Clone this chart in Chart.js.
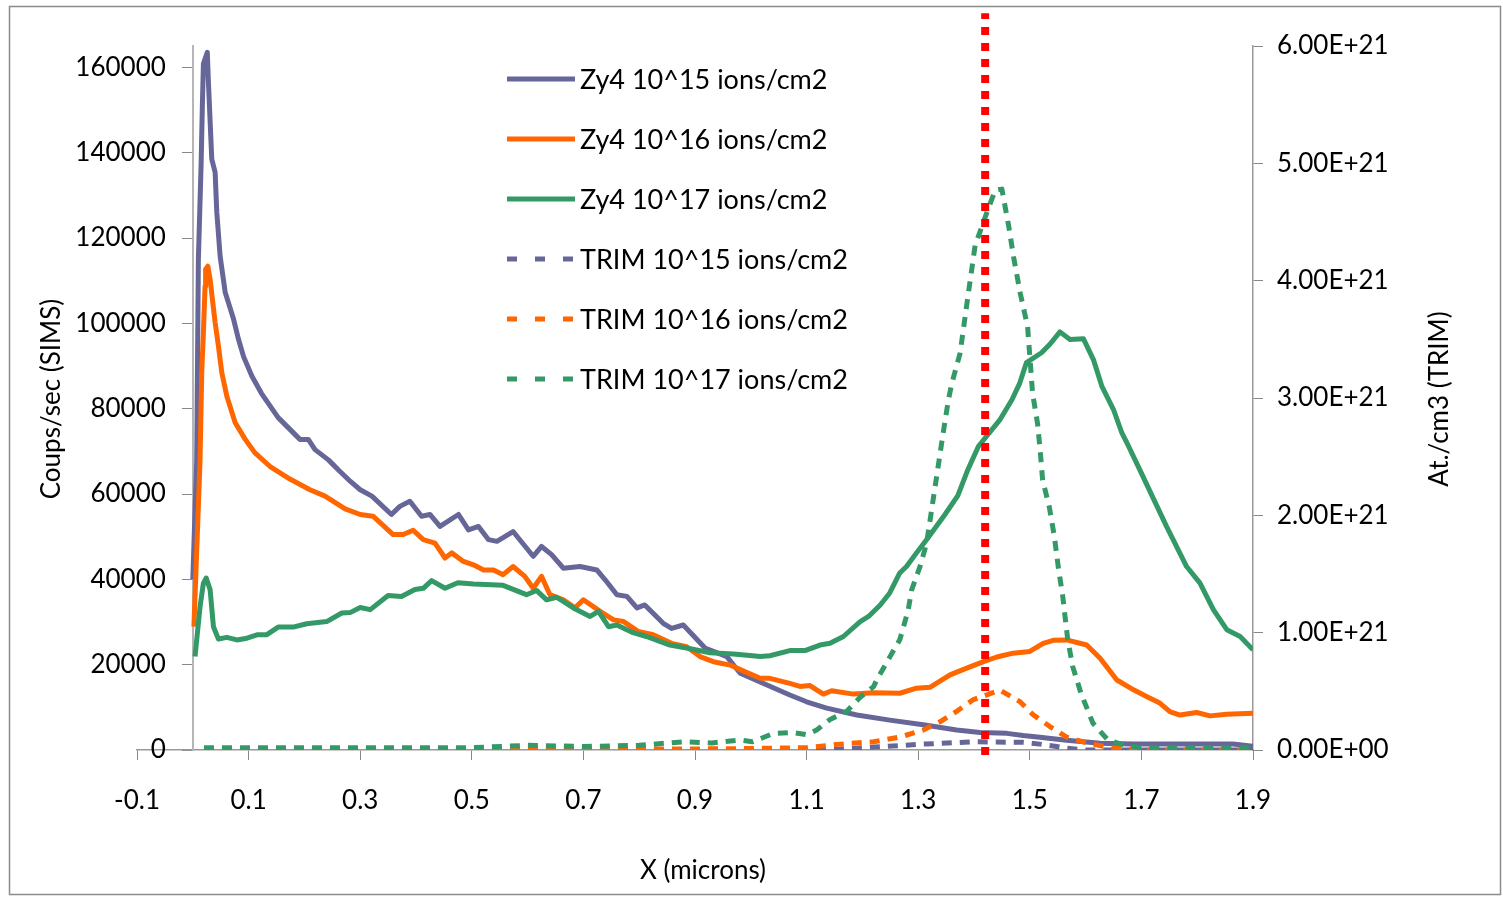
<!DOCTYPE html>
<html>
<head>
<meta charset="utf-8">
<script src="https://cdn.jsdelivr.net/npm/chart.js@4.4.0/dist/chart.umd.min.js"></script>
<style>
  html, body { margin: 0; padding: 0; background: #fff; }
  canvas { display: block; }
</style>
</head>
<body>
<canvas id="chart" width="1503" height="898"></canvas>
<script>
// ticks
const xTicks = [-0.1, 0.1, 0.3, 0.5, 0.7, 0.9, 1.1, 1.3, 1.5, 1.7, 1.9];
const xTickLabels = ['-0.1', '0.1', '0.3', '0.5', '0.7', '0.9', '1.1', '1.3', '1.5', '1.7', '1.9'];
const leftTicks = [0, 20000, 40000, 60000, 80000, 100000, 120000, 140000, 160000];
const leftTickLabels = ['0', '20000', '40000', '60000', '80000', '100000', '120000', '140000', '160000'];
const rightTicks = [0, 1e21, 2e21, 3e21, 4e21, 5e21, 6e21];
const rightTickLabels = ['0.00E+00', '1.00E+21', '2.00E+21', '3.00E+21', '4.00E+21', '5.00E+21', '6.00E+21'];

const seriesNames = ['Zy4 10^15 ions/cm2', 'Zy4 10^16 ions/cm2', 'Zy4 10^17 ions/cm2',
  'TRIM 10^15 ions/cm2', 'TRIM 10^16 ions/cm2', 'TRIM 10^17 ions/cm2'];

// SIMS, Zy4 10^15 (coups/sec)
const zy15X = [0, 0.007, 0.010, 0.015, 0.017, 0.019, 0.026, 0.028, 0.034, 0.040, 0.043, 0.049, 0.058, 0.073, 0.082, 0.091,
  0.106, 0.123, 0.153, 0.192, 0.207, 0.219, 0.243, 0.262, 0.282, 0.300, 0.321, 0.356, 0.371, 0.389, 0.410, 0.425, 0.443,
  0.476, 0.494, 0.512, 0.530, 0.545, 0.574, 0.610, 0.625, 0.643, 0.664, 0.694, 0.724, 0.739, 0.760, 0.778, 0.796, 0.810,
  0.843, 0.858, 0.879, 0.918, 0.957, 0.981, 1.028, 1.070, 1.100, 1.136, 1.190, 1.249, 1.309, 1.369, 1.411, 1.459, 1.488,
  1.518, 1.566, 1.626, 1.685, 1.864, 1.900];
const zy15Y = [40000, 68000, 115000, 137800, 150200, 160800, 163500, 156500, 138500, 135400, 126000, 115700, 107300, 101000, 96200, 92200,
  87600, 83600, 77900, 72800, 72800, 70400, 68000, 65500, 63000, 61000, 59500, 55200, 57100, 58300, 54800, 55200, 52400,
  55200, 51600, 52400, 49300, 48900, 51200, 45400, 47700, 45800, 42600, 43000, 42200, 39900, 36400, 36000, 33300, 34000,
  29700, 28500, 29300, 23900, 21900, 18000, 15300, 12900, 11300, 9800, 8200, 7000, 5900, 4700, 4100, 3900, 3400,
  3000, 2300, 1600, 1400, 1400, 900];

// SIMS, Zy4 10^16
const zy16X = [0.002, 0.013, 0.016, 0.019, 0.022, 0.023, 0.027, 0.031, 0.040, 0.046, 0.052, 0.061, 0.076, 0.094, 0.111,
  0.138, 0.174, 0.210, 0.237, 0.273, 0.300, 0.323, 0.359, 0.377, 0.395, 0.413, 0.434, 0.452, 0.464, 0.485, 0.503, 0.521,
  0.539, 0.556, 0.574, 0.595, 0.610, 0.625, 0.640, 0.664, 0.685, 0.700, 0.730, 0.754, 0.772, 0.798, 0.825, 0.858, 0.885,
  0.909, 0.933, 0.963, 0.985, 1.017, 1.034, 1.070, 1.088, 1.106, 1.130, 1.145, 1.184, 1.220, 1.267, 1.297, 1.321, 1.357,
  1.387, 1.417, 1.441, 1.470, 1.500, 1.524, 1.542, 1.566, 1.602, 1.626, 1.656, 1.686, 1.710, 1.733, 1.751, 1.769, 1.799,
  1.823, 1.853, 1.900];
const zy16Y = [28900, 68000, 88400, 97900, 108700, 112700, 113400, 110300, 100200, 94600, 88400, 82900, 76700, 72800, 69700,
  66500, 63500, 61000, 59500, 56500, 55200, 54800, 50500, 50500, 51500, 49300, 48500, 45000, 46200, 44200, 43400, 42200,
  42200, 41100, 43000, 40700, 37900, 40700, 36400, 35200, 33300, 35200, 32500, 30500, 30100, 27800, 27000, 25000, 24200,
  21900, 20700, 19900, 18600, 16800, 16800, 15600, 14900, 15100, 13100, 13900, 13100, 13400, 13300, 14500, 14700, 17600,
  19200, 20700, 21800, 22700, 23100, 25000, 25700, 25800, 24600, 21500, 16400, 14100, 12500, 11000, 9000, 8200, 8800,
  8000, 8400, 8600];

// SIMS, Zy4 10^17
const zy17X = [0.004, 0.013, 0.019, 0.024, 0.031, 0.037, 0.046, 0.061, 0.079, 0.097, 0.115, 0.132, 0.153, 0.180, 0.204,
  0.240, 0.267, 0.282, 0.300, 0.318, 0.350, 0.374, 0.398, 0.413, 0.428, 0.452, 0.475, 0.503, 0.556, 0.598, 0.616, 0.634,
  0.652, 0.682, 0.712, 0.727, 0.745, 0.760, 0.789, 0.813, 0.855, 0.885, 0.927, 0.969, 1.017, 1.034, 1.070, 1.097, 1.124,
  1.142, 1.166, 1.196, 1.211, 1.232, 1.249, 1.267, 1.279, 1.297, 1.315, 1.348, 1.371, 1.389, 1.408, 1.447, 1.468, 1.482,
  1.494, 1.521, 1.536, 1.554, 1.572, 1.596, 1.614, 1.629, 1.650, 1.665, 1.677, 1.697, 1.745, 1.781, 1.805, 1.829, 1.853,
  1.877, 1.900];
const zy17Y = [21900, 33600, 39100, 40300, 37600, 28900, 26000, 26400, 25800, 26200, 27000, 27000, 28800, 28800, 29600,
  30100, 32100, 32200, 33400, 32900, 36200, 36000, 37600, 37900, 39700, 37900, 39200, 38900, 38600, 36400, 37400, 35200,
  35800, 33300, 31300, 32500, 28900, 29300, 27500, 26600, 24600, 23900, 22800, 22500, 21900, 22100, 23300, 23300, 24600,
  25000, 26600, 30100, 31300, 34000, 36800, 41500, 43000, 46200, 49300, 55200, 59600, 65700, 71200, 77500, 82100, 86000,
  90800, 93100, 95100, 98000, 96200, 96400, 91500, 85300, 79800, 74300, 71200, 65700, 52400, 43000, 39100, 32900, 28200,
  26600, 23500];

// TRIM (at./cm3)
const trim15X = [0.02, 1.15, 1.309, 1.399, 1.488, 1.518, 1.548, 1.566, 1.60, 1.90];
const trim15Y = [0, 0.005e21, 0.05e21, 0.07e21, 0.065e21, 0.05e21, 0.03e21, 0.015e21, 0, 0];

const trim16X = [0.02, 0.95, 1.10, 1.160, 1.220, 1.267, 1.309, 1.339, 1.369, 1.399, 1.429, 1.447, 1.483, 1.506, 1.536,
  1.566, 1.602, 1.644, 1.674, 1.70, 1.90];
const trim16Y = [0, 0.01e21, 0.02e21, 0.05e21, 0.07e21, 0.11e21, 0.17e21, 0.24e21, 0.33e21, 0.43e21, 0.48e21, 0.51e21,
  0.41e21, 0.30e21, 0.20e21, 0.11e21, 0.06e21, 0.02e21, 0.01e21, 0, 0];

const trim17X = [0.02, 0.50, 0.60, 0.70, 0.80, 0.88, 0.93, 0.98, 1.003, 1.04, 1.075, 1.10, 1.118, 1.142, 1.172, 1.196,
  1.220, 1.226, 1.250, 1.267, 1.282, 1.288, 1.303, 1.315, 1.345, 1.354, 1.360, 1.375, 1.386, 1.394, 1.402, 1.426, 1.438,
  1.450, 1.462, 1.471, 1.483, 1.496, 1.505, 1.514, 1.519, 1.523, 1.535, 1.544, 1.551, 1.559, 1.568, 1.577, 1.592, 1.613,
  1.640, 1.670, 1.700, 1.900];
const trim17Y = [0.02e21, 0.02e21, 0.04e21, 0.03e21, 0.04e21, 0.07e21, 0.06e21, 0.085e21, 0.07e21, 0.14e21, 0.15e21,
  0.13e21, 0.17e21, 0.26e21, 0.33e21, 0.45e21, 0.54e21, 0.60e21, 0.80e21, 0.94e21, 1.19e21, 1.36e21, 1.56e21, 1.76e21,
  2.71e21, 2.98e21, 3.12e21, 3.38e21, 3.76e21, 4.03e21, 4.30e21, 4.62e21, 4.77e21, 4.78e21, 4.47e21, 4.20e21, 3.89e21,
  3.61e21, 3.04e21, 2.78e21, 2.53e21, 2.30e21, 2.07e21, 1.82e21, 1.56e21, 1.31e21, 0.94e21, 0.71e21, 0.48e21, 0.23e21,
  0.085e21, 0.04e21, 0.02e21, 0.02e21];

// vertical marker (depth 1.42 microns)
const markerX = [1.42, 1.42];
const markerY = [-1200, 172700];

const pts = (xs, ys) => xs.map((x, i) => ({ x: x, y: ys[i] }));

const purple = '#666699';
const orange = '#ff6600';
const green = '#339966';
const dash = [10, 8];

function line(label, xs, ys, color, axis, dashed, order) {
  return {
    label: label,
    data: pts(xs, ys),
    yAxisID: axis,
    borderColor: color,
    backgroundColor: color,
    borderWidth: 5,
    borderDash: dashed ? dash : [],
    borderJoinStyle: 'round',
    pointRadius: 0,
    showLine: true,
    tension: 0,
    order: order
  };
}

// legend, axis titles, left tick labels, frame
const decor = {
  id: 'decor',
  beforeDraw(chart) {
    const c = chart.ctx;
    c.save();
    c.fillStyle = '#fff';
    c.fillRect(0, 0, chart.width, chart.height);
    c.restore();
  },
  afterDraw(chart) {
    const c = chart.ctx;
    c.save();
    c.strokeStyle = '#8c8c8c';
    c.lineWidth = 1.5;
    c.strokeRect(9.5, 6.5, 1491, 888);

    c.fillStyle = '#000';
    c.font = '26px Lato';
    c.textBaseline = 'middle';

    // left axis labels sit left of the tick marks
    const ys = chart.scales.y;
    const axisX = chart.scales.x.getPixelForValue(0);
    c.textAlign = 'right';
    leftTicks.forEach((v, i) => {
      c.fillText(leftTickLabels[i], axisX - 27, ys.getPixelForValue(v));
    });

    c.textAlign = 'center';
    c.fillText('X (microns)', 703, 871);
    c.save();
    c.translate(52, 399);
    c.rotate(-Math.PI / 2);
    c.fillText('Coups/sec (SIMS)', 0, 0);
    c.restore();
    c.save();
    c.translate(1440, 399);
    c.rotate(-Math.PI / 2);
    c.fillText('At./cm3 (TRIM)', 0, 0);
    c.restore();

    c.textAlign = 'left';
    c.font = '27px Lato';
    chart.data.datasets.slice(0, 6).forEach((ds, i) => {
      const y = 79 + i * 60;
      c.strokeStyle = ds.borderColor;
      c.lineWidth = 5;
      c.setLineDash(ds.borderDash.length ? [10, 18] : []);
      c.beginPath();
      c.moveTo(507, y);
      c.lineTo(575, y);
      c.stroke();
      c.setLineDash([]);
      c.fillText(ds.label, 580, y + 1);
    });
    c.restore();
  }
};

Chart.defaults.font.family = 'Lato';
Chart.defaults.font.size = 26;
Chart.defaults.color = '#000';

const ctx = document.getElementById('chart').getContext('2d');
new Chart(ctx, {
  type: 'scatter',
  data: {
    datasets: [
      line(seriesNames[0], zy15X, zy15Y, purple, 'y', false, 6),
      line(seriesNames[1], zy16X, zy16Y, orange, 'y', false, 5),
      line(seriesNames[2], zy17X, zy17Y, green, 'y', false, 4),
      line(seriesNames[3], trim15X, trim15Y, purple, 'y2', true, 3),
      line(seriesNames[4], trim16X, trim16Y, orange, 'y2', true, 2),
      line(seriesNames[5], trim17X, trim17Y, green, 'y2', true, 1),
      {
        label: 'marker',
        data: pts(markerX, markerY),
        yAxisID: 'y',
        borderColor: '#ff0000',
        borderWidth: 8,
        borderDash: [8, 8],
        borderCapStyle: 'butt',
        pointRadius: 0,
        showLine: true,
        clip: false,
        order: 0
      }
    ]
  },
  options: {
    responsive: false,
    animation: false,
    layout: { padding: { left: 137, top: 46, right: 0, bottom: 0 } },
    plugins: { legend: { display: false }, tooltip: { enabled: false } },
    scales: {
      x: {
        type: 'linear',
        position: 'bottom',
        min: -0.1,
        max: 1.9,
        afterFit: s => { s.height = 148; },
        afterBuildTicks: s => { s.ticks = xTicks.map(v => ({ value: v })); },
        ticks: { autoSkip: false, maxRotation: 0, padding: 25, callback: (v, i) => xTickLabels[i] },
        grid: { drawOnChartArea: false, tickLength: 10, color: '#888' },
        border: { color: '#999', width: 1.5 }
      },
      y: {
        type: 'linear',
        axis: 'y',
        position: { x: 0 },
        min: 0,
        max: 165000,
        afterBuildTicks: s => { s.ticks = leftTicks.map(v => ({ value: v })); },
        ticks: { display: false },
        grid: { drawOnChartArea: false, tickLength: 10, color: '#888' },
        border: { color: '#b5b5b5', width: 2 }
      },
      y2: {
        type: 'linear',
        position: 'right',
        min: 0,
        max: 6e21,
        afterFit: s => { s.width = 250; },
        afterBuildTicks: s => { s.ticks = rightTicks.map(v => ({ value: v })); },
        ticks: { padding: 14, callback: (v, i) => rightTickLabels[i] },
        grid: { drawOnChartArea: false, tickLength: 10, color: '#888' },
        border: { color: '#999', width: 1.5 }
      }
    }
  },
  plugins: [decor]
});
</script>
</body>
</html>
